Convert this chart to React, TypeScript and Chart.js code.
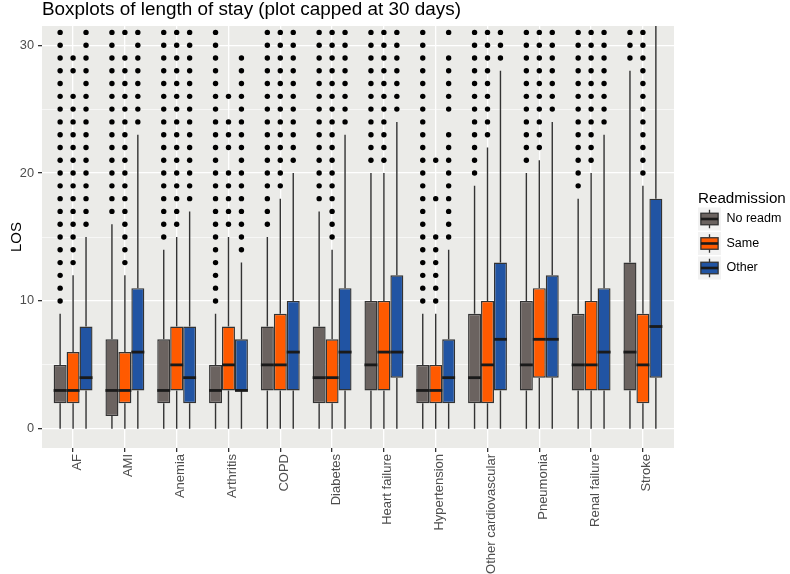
import React, { useEffect, useRef } from 'react';
import { Chart, registerables } from 'chart.js';

Chart.register(...registerables);

const categories = [
  'AF', 'AMI', 'Anemia', 'Arthritis', 'COPD', 'Diabetes', 'Heart failure',
  'Hypertension', 'Other cardiovascular', 'Pneumonia', 'Renal failure', 'Stroke',
];

const groupNames = ['No readm', 'Same', 'Other'];
const groupColors = ['#6B6360', '#FF5A00', '#2154A3'];

const yTicks = [0, 5, 10, 15, 20, 25, 30];

// No readm
const noReadmLow = [0, 0, 0, 0, 0, 0, 0, 0, 0, 0, 0, 0];
const noReadmQ1 = [2, 1, 2, 2, 3, 2, 3, 2, 2, 3, 3, 3];
const noReadmMed = [3, 3, 3, 3, 5, 4, 5, 3, 4, 5, 5, 6];
const noReadmQ3 = [5, 7, 7, 5, 8, 8, 10, 5, 9, 10, 9, 13];
const noReadmHigh = [9, 16, 14, 9, 15, 17, 20, 9, 19, 20, 18, 28];
const noReadmOut = [
  [10, 11, 12, 13, 14, 15, 16, 17, 18, 19, 20, 21, 22, 23, 24, 25, 26, 27, 28, 29, 30, 31],
  [17, 18, 19, 20, 21, 22, 23, 24, 25, 26, 27, 28, 29, 30, 31],
  [15, 16, 17, 18, 19, 20, 21, 22, 23, 24, 25, 26, 27, 28, 29, 30, 31],
  [10, 11, 12, 13, 14, 15, 16, 17, 18, 19, 20, 21, 22, 23, 24, 25, 26, 27, 28, 29, 30, 31],
  [16, 17, 18, 19, 20, 21, 22, 23, 24, 25, 26, 27, 28, 29, 30, 31],
  [18, 19, 20, 21, 22, 23, 24, 25, 26, 27, 28, 29, 30, 31],
  [21, 22, 23, 24, 25, 26, 27, 28, 29, 30, 31],
  [10, 11, 12, 13, 14, 15, 16, 17, 18, 19, 20, 21, 22, 23, 24, 25, 26, 27, 28, 29, 30, 31],
  [20, 21, 22, 23, 24, 25, 26, 27, 28, 29, 30, 31],
  [21, 22, 23, 24, 25, 26, 27, 28, 29, 30, 31],
  [19, 20, 21, 22, 23, 24, 25, 26, 27, 28, 29, 30, 31],
  [29, 30, 31],
];

// Same
const sameLow = [0, 0, 0, 0, 0, 0, 0, 0, 0, 0, 0, 0];
const sameQ1 = [2, 2, 3, 3, 3, 2, 3, 2, 2, 4, 3, 2];
const sameMed = [3, 3, 5, 5, 5, 4, 6, 3, 5, 7, 5, 5];
const sameQ3 = [6, 6, 8, 8, 9, 7, 10, 5, 10, 11, 10, 9];
const sameHigh = [12, 12, 15, 15, 18, 14, 20, 9, 22, 21, 20, 19];
const sameOut = [
  [13, 14, 15, 16, 17, 18, 19, 20, 21, 22, 23, 24, 25, 26, 28, 29],
  [13, 14, 15, 16, 17, 18, 19, 20, 21, 22, 23, 24, 25, 26, 27, 28, 29, 31],
  [16, 17, 18, 19, 20, 21, 22, 23, 24, 25, 26, 27, 28, 29, 30, 31],
  [16, 17, 18, 19, 20, 22, 23, 24, 26],
  [19, 20, 21, 22, 23, 24, 25, 26, 27, 28, 29, 30, 31],
  [15, 16, 17, 18, 19, 20, 21, 22, 23, 24, 25, 26, 27, 28, 29, 30, 31],
  [21, 22, 23, 24, 25, 26, 27, 28, 29, 30, 31],
  [10, 11, 12, 13, 14, 15, 18, 21],
  [23, 24, 25, 26, 27, 28, 29, 30, 31],
  [22, 23, 24, 25, 26, 27, 28, 29, 30, 31],
  [21, 22, 23, 24, 25, 26, 27, 28, 29, 30, 31],
  [20, 21, 22, 23, 24, 25, 26, 27, 28, 29, 30, 31],
];

// Other
const otherLow = [0, 0, 0, 0, 0, 0, 0, 0, 0, 0, 0, 0];
const otherQ1 = [3, 3, 2, 3, 3, 3, 4, 2, 3, 4, 3, 4];
const otherMed = [4, 6, 4, 3, 6, 6, 6, 4, 7, 7, 6, 8];
const otherQ3 = [8, 11, 8, 7, 10, 11, 12, 7, 13, 12, 11, 18];
const otherHigh = [15, 23, 17, 13, 20, 23, 24, 14, 28, 24, 23, 39];
const otherOut = [
  [16, 17, 18, 19, 20, 21, 22, 23, 24, 25, 26, 27, 28, 29, 30, 31],
  [24, 25, 26, 27, 28, 29, 30, 31],
  [18, 19, 20, 21, 22, 23, 24, 25, 26, 27, 28, 29, 30, 31],
  [14, 15, 16, 17, 18, 19, 20, 21, 22, 23, 24, 25, 26, 27, 28, 29],
  [21, 22, 23, 24, 25, 26, 27, 28, 29, 30, 31],
  [24, 25, 26, 27, 28, 29, 30, 31],
  [25, 26, 27, 28, 29, 30, 31],
  [15, 16, 17, 18, 19, 20, 21, 22, 23, 25, 26, 27, 28, 29, 31],
  [29, 30, 31],
  [25, 26, 27, 28, 29, 30, 31],
  [24, 25, 26, 27, 28, 29, 30, 31],
  [],
];

const groups = [
  { low: noReadmLow, q1: noReadmQ1, med: noReadmMed, q3: noReadmQ3, high: noReadmHigh, out: noReadmOut },
  { low: sameLow, q1: sameQ1, med: sameMed, q3: sameQ3, high: sameHigh, out: sameOut },
  { low: otherLow, q1: otherQ1, med: otherMed, q3: otherQ3, high: otherHigh, out: otherOut },
];

const FONT = '"Liberation Sans", Arial, Helvetica, sans-serif';
const PANEL_BG = '#EBEBE8';
const LINE = '#333333';

const boxPlugin = {
  id: 'boxExtras',
  beforeDraw(chart: any) {
    const { ctx, chartArea } = chart;
    ctx.save();
    ctx.fillStyle = PANEL_BG;
    ctx.fillRect(chartArea.left, chartArea.top, chartArea.right - chartArea.left, chartArea.bottom - chartArea.top);
    ctx.restore();
  },
  beforeDatasetsDraw(chart: any) {
    const { ctx, chartArea } = chart;
    const y = chart.scales.y;
    ctx.save();
    ctx.beginPath();
    ctx.rect(chartArea.left, chartArea.top, chartArea.right - chartArea.left, chartArea.bottom - chartArea.top);
    ctx.clip();
    ctx.strokeStyle = LINE;
    ctx.lineWidth = 1.4;
    groups.forEach((g, d) => {
      const meta = chart.getDatasetMeta(d);
      meta.data.forEach((el: any, i: number) => {
        const { x } = el.getProps(['x'], true);
        ctx.beginPath();
        ctx.moveTo(x, y.getPixelForValue(g.q3[i]));
        ctx.lineTo(x, y.getPixelForValue(g.high[i]));
        ctx.moveTo(x, y.getPixelForValue(g.q1[i]));
        ctx.lineTo(x, y.getPixelForValue(g.low[i]));
        ctx.stroke();
      });
    });
    ctx.restore();
  },
  afterDatasetsDraw(chart: any) {
    const { ctx } = chart;
    const y = chart.scales.y;
    ctx.save();
    ctx.strokeStyle = '#1A1A1A';
    ctx.lineWidth = 2.8;
    groups.forEach((g, d) => {
      const meta = chart.getDatasetMeta(d);
      meta.data.forEach((el: any, i: number) => {
        const { x, width } = el.getProps(['x', 'width'], true);
        const py = y.getPixelForValue(g.med[i]);
        ctx.beginPath();
        ctx.moveTo(x - width / 2, py);
        ctx.lineTo(x + width / 2, py);
        ctx.stroke();
      });
    });
    ctx.restore();
  },
  afterDraw(chart: any) {
    const { ctx, chartArea } = chart;
    ctx.save();
    // title
    ctx.fillStyle = '#000000';
    ctx.font = `18.9px ${FONT}`;
    ctx.textAlign = 'left';
    ctx.textBaseline = 'alphabetic';
    ctx.fillText('Boxplots of length of stay (plot capped at 30 days)', chartArea.left, 14.5);
    // y title
    ctx.save();
    ctx.translate(17, (chartArea.top + chartArea.bottom) / 2);
    ctx.rotate(-Math.PI / 2);
    ctx.font = `15px ${FONT}`;
    ctx.textAlign = 'center';
    ctx.textBaseline = 'middle';
    ctx.fillText('LOS', 0, 0);
    ctx.restore();
    // legend
    const lx = chartArea.right + 24;
    ctx.font = `15.2px ${FONT}`;
    ctx.textAlign = 'left';
    ctx.textBaseline = 'alphabetic';
    ctx.fillStyle = '#000000';
    ctx.fillText('Readmission', lx, 203);
    const key = 23;
    groupNames.forEach((name, k) => {
      const top = 207.5 + k * 24.5;
      ctx.fillStyle = '#F2F2F2';
      ctx.fillRect(lx, top, key, key);
      const cx = lx + key / 2;
      ctx.strokeStyle = LINE;
      ctx.lineWidth = 1.3;
      ctx.beginPath();
      ctx.moveTo(cx, top + key * 0.1);
      ctx.lineTo(cx, top + key * 0.25);
      ctx.moveTo(cx, top + key * 0.75);
      ctx.lineTo(cx, top + key * 0.9);
      ctx.stroke();
      ctx.fillStyle = groupColors[k];
      ctx.fillRect(lx + key * 0.125, top + key * 0.25, key * 0.75, key * 0.5);
      ctx.strokeRect(lx + key * 0.125, top + key * 0.25, key * 0.75, key * 0.5);
      ctx.strokeStyle = '#1A1A1A';
      ctx.lineWidth = 2.6;
      ctx.beginPath();
      ctx.moveTo(lx + key * 0.125, top + key * 0.5);
      ctx.lineTo(lx + key * 0.875, top + key * 0.5);
      ctx.stroke();
      ctx.fillStyle = '#000000';
      ctx.font = `12.5px ${FONT}`;
      ctx.textBaseline = 'middle';
      ctx.fillText(name, lx + key + 5.5, top + key / 2);
      ctx.textBaseline = 'alphabetic';
    });
    ctx.restore();
  },
};

export default function App() {
  const canvasRef = useRef<HTMLCanvasElement | null>(null);

  useEffect(() => {
    document.body.style.margin = '0';
    const canvas = canvasRef.current;
    if (!canvas) return;

    const barSets = groups.map((g, d) => ({
      type: 'bar' as const,
      label: groupNames[d],
      data: categories.map((_, i) => ({ x: i, y: [g.q1[i], g.q3[i]] })),
      backgroundColor: groupColors[d],
      borderColor: LINE,
      borderWidth: 1.4,
      borderSkipped: false,
      grouped: true,
      categoryPercentage: 0.75,
      barPercentage: 1,
      order: 2,
    }));

    const outlierSets = groups.map((g, d) => ({
      type: 'scatter' as const,
      label: groupNames[d] + ' outliers',
      data: categories.flatMap((_, i) => g.out[i].map((v) => ({ x: i + (d - 1) * 0.25, y: v }))),
      backgroundColor: '#000000',
      borderWidth: 0,
      pointRadius: 2.7,
      pointHoverRadius: 2.7,
      order: 1,
    }));

    const chart = new Chart(canvas, {
      type: 'bar',
      data: { datasets: [...barSets, ...outlierSets] as any },
      options: {
        animation: false,
        responsive: true,
        maintainAspectRatio: false,
        layout: { padding: { top: 26, right: 116, bottom: 0, left: 0 } },
        plugins: {
          legend: { display: false },
          tooltip: { enabled: false },
          title: { display: false },
        },
        scales: {
          x: {
            type: 'linear',
            min: -0.6,
            max: 11.6,
            offset: false,
            afterBuildTicks: (axis: any) => {
              axis.ticks = categories.map((_, i) => ({ value: i }));
            },
            afterFit: (axis: any) => {
              axis.height = 126;
            },
            grid: {
              offset: false,
              color: '#FFFFFF',
              lineWidth: 1.3,
              tickColor: LINE,
              tickLength: 4,
              drawTicks: true,
            },
            border: { display: false },
            ticks: {
              autoSkip: false,
              minRotation: 90,
              maxRotation: 90,
              padding: 2,
              labelOffset: 4,
              color: '#4D4D4D',
              font: { family: FONT, size: 13 },
              callback: (v: any) => categories[v as number] ?? '',
            },
          },
          y: {
            type: 'linear',
            min: -1.5,
            max: 31.5,
            afterBuildTicks: (axis: any) => {
              axis.ticks = yTicks.map((v) => ({ value: v }));
            },
            afterFit: (axis: any) => {
              axis.width = 42;
            },
            grid: {
              color: '#FFFFFF',
              lineWidth: (c: any) => (c.tick && c.tick.value % 10 === 0 ? 1.3 : 0.6),
              tickColor: (c: any) => (c.tick && c.tick.value % 10 === 0 ? LINE : 'rgba(0,0,0,0)'),
              tickLength: 4,
            },
            border: { display: false },
            ticks: {
              padding: 4,
              color: '#4D4D4D',
              font: { family: FONT, size: 12.8 },
              callback: (v: any) => ((v as number) % 10 === 0 ? String(v) : ''),
            },
          },
        },
      } as any,
      plugins: [boxPlugin],
    });

    return () => {
      chart.destroy();
    };
  }, []);

  return (
    <div style={{ position: 'relative', width: '790px', height: '574px' }}>
      <canvas ref={canvasRef} />
    </div>
  );
}
